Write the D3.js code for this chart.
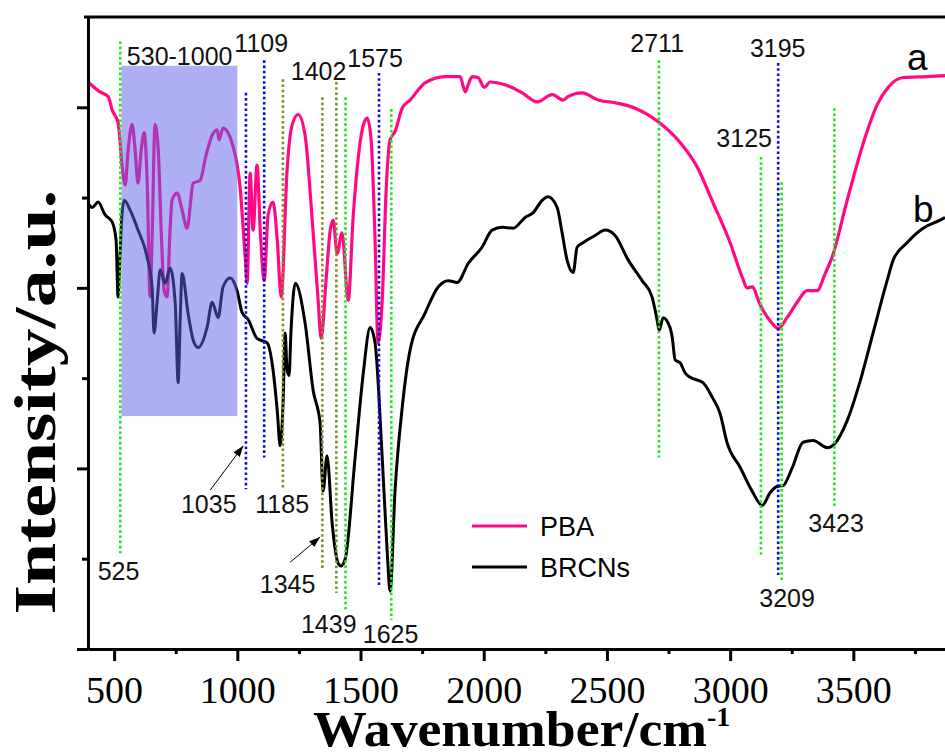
<!DOCTYPE html>
<html>
<head>
<meta charset="utf-8">
<script src="https://cdn.jsdelivr.net/npm/d3@7"></script>
<style>
  html, body { margin: 0; padding: 0; background: #fff; }
  svg { display: block; }
</style>
</head>
<body>
<svg id="chart" width="945" height="754"></svg>
<script>
// FTIR spectra of PBA and BRCNs, wavenumber (cm^-1) vs. intensity (a.u., offset traces)
const pbaWavenumber = [394,443,476,492,516,532,545,557,573,585,597,610,622,634,646,654,666,679,691,703,715,727,735,756,776,796,821,849,873,898,918,926,942,979,1011,1032,1040,1052,1064,1080,1093,1109,1125,1145,1162,1178,1202,1222,1247,1275,1304,1328,1340,1360,1377,1389,1405,1425,1450,1470,1490,1511,1527,1543,1559,1571,1588,1604,1620,1640,1669,1701,1762,1843,1904,1925,1937,1953,1977,2002,2026,2087,2156,2217,2278,2322,2343,2399,2464,2533,2614,2708,2797,2866,2931,3000,3049,3069,3089,3122,3170,3195,3231,3272,3312,3353,3386,3414,3475,3540,3597,3641,3702,3799,3872];
const pbaIntensity = [6.28,6.17,6.12,5.97,5.83,5.36,5.14,5.53,5.81,5.53,5.16,5.53,5.72,5.19,3.90,4.53,5.81,5.53,4.64,3.97,3.90,4.64,4.97,5.05,4.86,4.66,5.16,5.19,5.47,5.69,5.75,5.64,5.77,5.60,5.12,4.34,4.05,5.27,4.64,5.36,4.64,4.08,4.81,4.95,4.53,3.90,5.31,5.80,5.92,5.69,4.75,3.86,3.44,4.08,4.64,4.75,4.38,4.61,3.86,4.78,5.42,5.80,5.88,5.64,4.53,3.39,3.86,5.08,5.64,5.73,5.99,6.08,6.27,6.34,6.34,6.17,6.25,6.34,6.33,6.22,6.28,6.25,6.16,6.06,6.14,6.08,6.12,6.16,6.08,6.05,5.99,5.84,5.61,5.34,4.94,4.50,4.12,4.00,4.01,3.81,3.61,3.55,3.67,3.84,3.97,3.97,4.16,4.34,4.97,5.60,6.03,6.22,6.33,6.34,6.35];

const brcnWavenumber = [394,411,435,463,492,508,516,524,532,541,565,597,634,654,662,675,687,707,727,748,760,768,776,800,821,841,877,898,922,942,971,999,1019,1044,1080,1121,1145,1162,1174,1186,1194,1202,1210,1218,1235,1275,1308,1336,1348,1364,1385,1409,1421,1438,1478,1511,1539,1559,1588,1608,1620,1640,1669,1701,1762,1815,1856,1892,1937,1993,2034,2075,2119,2168,2200,2237,2261,2298,2318,2338,2363,2379,2403,2452,2493,2533,2586,2643,2683,2704,2712,2728,2756,2765,2777,2797,2817,2838,2890,2927,2959,2988,3041,3089,3130,3162,3190,3215,3251,3296,3337,3394,3426,3475,3528,3580,3637,3662,3718,3783,3852,3872];
const brcnIntensity = [4.94,4.89,4.95,4.81,4.73,4.53,3.90,4.36,4.81,4.97,4.86,4.64,4.34,4.01,3.50,3.86,4.20,4.05,4.22,3.83,2.95,3.64,4.16,3.72,3.42,3.34,3.56,3.84,3.67,4.01,4.11,3.97,3.73,3.65,3.44,3.39,3.09,2.64,2.25,2.75,3.50,3.09,3.03,3.53,4.05,3.61,2.86,2.50,1.75,2.14,1.39,0.95,0.92,1.00,2.12,3.05,3.56,3.39,2.12,1.09,0.64,1.75,2.67,3.31,3.72,4.01,4.08,4.06,4.27,4.45,4.64,4.67,4.66,4.78,4.83,4.97,5.01,4.89,4.61,4.31,4.17,4.45,4.50,4.58,4.64,4.58,4.31,4.08,3.90,3.64,3.53,3.67,3.56,3.45,3.20,3.17,3.06,3.01,2.95,2.79,2.61,2.28,2.01,1.75,1.59,1.73,1.80,1.81,2.00,2.29,2.31,2.23,2.28,2.53,2.97,3.50,4.08,4.31,4.50,4.66,4.75,4.78];

// Band assignments: wavenumber, colour group, and vertical extent in intensity units
const bandWavenumbers = [525, 1035, 1109, 1185, 1345, 1402, 1439, 1575, 1625, 2711, 3125, 3195, 3209, 3423];
const bandGroups      = ["g", "b", "b", "o", "o", "o", "g", "b", "g", "g", "g", "b", "g", "g"];
const bandTop         = [6.73, 6.16, 6.52, 6.31, 6.11, 6.28, 6.11, 6.38, 5.98, 6.52, 5.45, 6.49, 5.17, 5.99];
const bandBottom      = [1.06, 1.77, 2.12, 1.77, 0.87, 0.62, 0.43, 0.71, 0.32, 2.12, 1.04, 0.82, 0.76, 1.58];

// Label text and anchor (centre wavenumber, baseline intensity)
const labelTexts = ["530-1000", "1109", "1402", "1575", "2711", "3195", "3125", "1035", "1185", "1345", "1439", "1625", "525", "3209", "3423"];
const labelWn    = [766, 1097, 1330, 1559, 2704, 3193, 3057, 884, 1182, 1204, 1371, 1622, 518, 3231, 3430];
const labelY     = [6.47, 6.61, 6.30, 6.45, 6.61, 6.56, 5.56, 1.51, 1.51, 0.62, 0.18, 0.07, 0.76, 0.47, 1.30];

// Highlighted fingerprint region
const regionWn = [530, 1000];
const regionY = [2.58, 6.46];

// Pointer arrows: [fromWn, fromY, toWn, toY]
const arrows = [[890, 1.76, 1024, 2.25], [1214, 0.96, 1336, 1.24]];

const xMajorTicks = [500, 1000, 1500, 2000, 2500, 3000, 3500];
const xMinorTicks = [750, 1250, 1750, 2250, 2750, 3250, 3750];
const yMajorTicks = [0, 2, 4, 6];
const yMinorTicks = [1, 3, 5];

const seriesNames = ["PBA", "BRCNs"];
const seriesColors = ["#ff0a84", "#000000"];
const groupColors = { g: "#1ee81e", b: "#0a0ae6", o: "#8c8a2a" };

const svg = d3.select("#chart");
const x = d3.scaleLinear().domain([394, 3872]).range([88, 945]);
const y = d3.scaleLinear().domain([0, 7]).range([649, 17]);

const line = d3.line()
  .x(d => x(d[0]))
  .y(d => y(d[1]))
  .curve(d3.curveMonotoneX);

const pbaData = pbaWavenumber.map((w, i) => [w, pbaIntensity[i]]);
const brcnData = brcnWavenumber.map((w, i) => [w, brcnIntensity[i]]);

// Spectra
svg.append("path").datum(pbaData)
  .attr("d", line).attr("fill", "none")
  .attr("stroke", seriesColors[0]).attr("stroke-width", 3.2)
  .attr("stroke-linejoin", "round");
svg.append("path").datum(brcnData)
  .attr("d", line).attr("fill", "none")
  .attr("stroke", seriesColors[1]).attr("stroke-width", 3)
  .attr("stroke-linejoin", "round");

// Translucent region box over the traces
svg.append("rect")
  .attr("x", x(regionWn[0])).attr("y", y(regionY[1]))
  .attr("width", x(regionWn[1]) - x(regionWn[0]))
  .attr("height", y(regionY[0]) - y(regionY[1]))
  .attr("fill", "rgb(96,96,232)").attr("fill-opacity", 0.5);

// Dotted band markers
svg.append("g").selectAll("line").data(bandWavenumbers).join("line")
  .attr("x1", d => x(d)).attr("x2", d => x(d))
  .attr("y1", (d, i) => y(bandTop[i])).attr("y2", (d, i) => y(bandBottom[i]))
  .attr("stroke", (d, i) => groupColors[bandGroups[i]])
  .attr("stroke-width", 2.6)
  .attr("stroke-dasharray", "2.6,2.6");

// Band labels
svg.append("g").selectAll("text").data(labelTexts).join("text")
  .attr("x", (d, i) => x(labelWn[i])).attr("y", (d, i) => y(labelY[i]))
  .attr("text-anchor", "middle")
  .attr("font-family", "'Liberation Sans', Arial, sans-serif")
  .attr("font-size", 25).attr("fill", "#111")
  .text(d => d);

// Arrows
const defs = svg.append("defs");
defs.append("marker").attr("id", "head")
  .attr("viewBox", "0 0 10 10").attr("refX", 10).attr("refY", 5)
  .attr("markerWidth", 11).attr("markerHeight", 11)
  .attr("markerUnits", "userSpaceOnUse")
  .attr("orient", "auto")
  .append("path").attr("d", "M0,1.5 L10,5 L0,8.5 Z").attr("fill", "#000");
svg.append("g").selectAll("line").data(arrows).join("line")
  .attr("x1", d => x(d[0])).attr("y1", d => y(d[1]))
  .attr("x2", d => x(d[2])).attr("y2", d => y(d[3]))
  .attr("stroke", "#000").attr("stroke-width", 1)
  .attr("marker-end", "url(#head)");

// Axes
const axisG = svg.append("g");
const bottom = axisG.append("g").attr("transform", `translate(0,${y(0)})`)
  .call(d3.axisBottom(x).tickValues(xMajorTicks).tickSize(12).tickSizeOuter(0)
    .tickPadding(15).tickFormat(d3.format("d")));
axisG.append("g").attr("transform", `translate(0,${y(0)})`)
  .call(d3.axisBottom(x).tickValues(xMinorTicks).tickSize(5).tickSizeOuter(0).tickFormat(""));
axisG.append("g").attr("transform", `translate(${x(394)},0)`)
  .call(d3.axisLeft(y).tickValues(yMajorTicks).tickSize(11).tickSizeOuter(0).tickFormat(""));
axisG.append("g").attr("transform", `translate(${x(394)},0)`)
  .call(d3.axisLeft(y).tickValues(yMinorTicks).tickSize(6).tickSizeOuter(0).tickFormat(""));
axisG.selectAll(".domain").attr("stroke", "#000").attr("stroke-width", 3);
axisG.selectAll(".tick line").attr("stroke", "#000").attr("stroke-width", 3);
bottom.selectAll(".tick text")
  .attr("font-family", "'Liberation Serif', 'Times New Roman', serif")
  .attr("font-size", 38).attr("fill", "#000");

// Top frame
svg.append("line")
  .attr("x1", x(394) - 4).attr("x2", x(3872))
  .attr("y1", y(7)).attr("y2", y(7))
  .attr("stroke", "#000").attr("stroke-width", 3);

// Axis titles
const xTitle = svg.append("text")
  .attr("x", 313).attr("y", 746)
  .attr("font-family", "'Liberation Serif', 'Times New Roman', serif")
  .attr("font-weight", "bold").attr("font-size", 50).attr("fill", "#000");
xTitle.append("tspan").attr("textLength", 394).attr("lengthAdjust", "spacingAndGlyphs")
  .text("Wavenumber/cm");
xTitle.append("tspan").attr("dy", -20).attr("font-size", 28).text("-1");

svg.append("text")
  .attr("transform", "translate(55,402) rotate(-90)")
  .attr("text-anchor", "middle")
  .attr("font-family", "'Liberation Serif', 'Times New Roman', serif")
  .attr("font-weight", "bold").attr("font-size", 60).attr("fill", "#000")
  .attr("textLength", 425).attr("lengthAdjust", "spacingAndGlyphs")
  .text("Intensity/a.u.");

// Trace letters
svg.append("text").attr("x", 907).attr("y", 70)
  .attr("font-family", "'Liberation Sans', Arial, sans-serif")
  .attr("font-size", 37).attr("fill", "#000").text("a");
svg.append("text").attr("x", 913).attr("y", 222)
  .attr("font-family", "'Liberation Sans', Arial, sans-serif")
  .attr("font-size", 37).attr("fill", "#000").text("b");

// Legend
const legend = svg.append("g").attr("transform", "translate(472,526)");
seriesNames.forEach((name, i) => {
  const g = legend.append("g").attr("transform", `translate(0,${i * 41})`);
  g.append("line").attr("x1", 0).attr("x2", 55).attr("y1", 0).attr("y2", 0)
    .attr("stroke", seriesColors[i]).attr("stroke-width", 3);
  g.append("text").attr("x", 68).attr("y", 10)
    .attr("font-family", "'Liberation Sans', Arial, sans-serif")
    .attr("font-size", 27).attr("fill", "#000").text(name);
});
</script>
</body>
</html>
